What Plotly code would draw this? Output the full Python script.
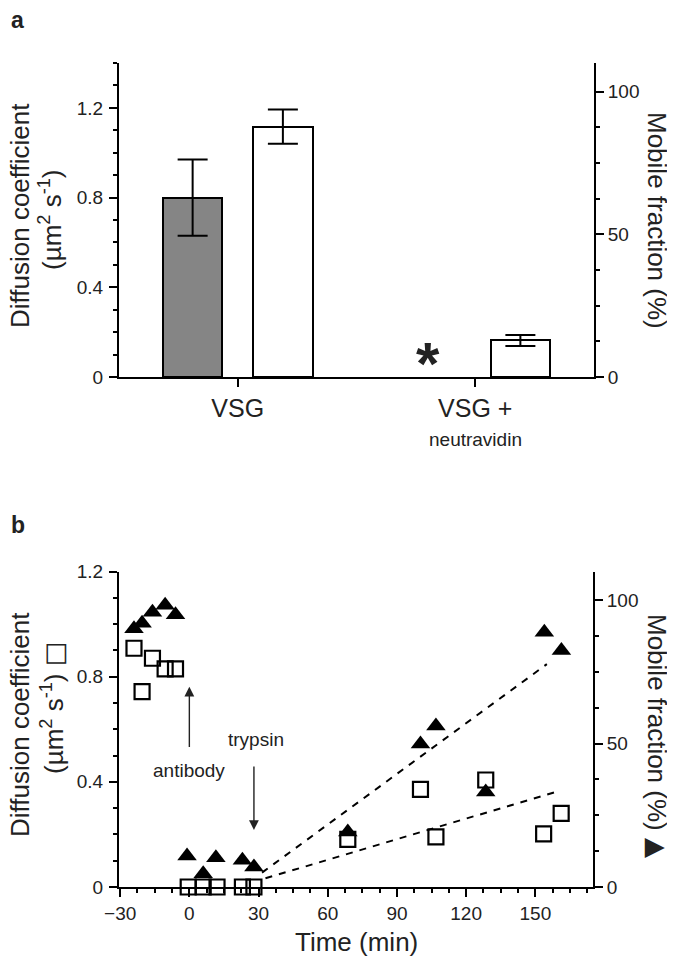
import plotly.graph_objects as go

# ---------------- data ----------------
# panel a
group_pos = [0, 1]
group_labels = ["VSG", "VSG +"]
group_sublabels = ["", "neutravidin"]
diff_coef = [0.80, None]          # second group not measurable (marked *)
diff_err = [0.17, 0.0]
mobile_frac = [87.7, 12.8]
mobile_err = [6.0, 1.9]

# panel b
time_sq = [-24, -20.5, -16, -10.5, -6, -0.5, 6, 12, 23, 28, 68.7, 100.2, 106.9, 128.5, 153.6, 161.2]
diff_b = [0.908, 0.743, 0.87, 0.83, 0.83, 0, 0, 0, 0, 0, 0.181, 0.371, 0.191, 0.407, 0.202, 0.28]
time_tri = [-24, -20.5, -16, -10.5, -6, -1, 6, 11.5, 23, 28, 68.7, 100.2, 106.9, 128.5, 153.9, 161.3]
mob_b = [90.0, 92.0, 95.8, 98.2, 94.9, 10.8, 4.6, 10.2, 9.3, 7.0, 19.2, 49.9, 56.1, 33.1, 88.8, 82.5]
fit_mob_x = [31.5, 155]
fit_mob_y = [5.0, 77.7]
fit_diff_x = [33, 159]
fit_diff_y = [0.033, 0.362]

FONT = "Liberation Sans, Arial, Helvetica, sans-serif"
SYM = "<span style='font-family:DejaVu Sans'>{}</span>"
OFF = 8                      # browser body margin
W, H = 675 - OFF, 959 - OFF


def px(x):
    return (x - OFF) / W


def py(y):
    return 1 - (y - OFF) / H


fig = go.Figure()

# ---- panel a bars ----
fig.add_trace(go.Bar(
    x=group_pos, y=diff_coef, xaxis="x", yaxis="y",
    width=0.25, offset=-0.315,
    marker=dict(color="#858585", line=dict(color="black", width=2)),
    error_y=dict(type="data", array=diff_err, color="black", thickness=2, width=15),
    showlegend=False,
))
fig.add_trace(go.Bar(
    x=group_pos, y=mobile_frac, xaxis="x", yaxis="y2",
    width=0.25, offset=0.065,
    marker=dict(color="white", line=dict(color="black", width=2)),
    error_y=dict(type="data", array=mobile_err, color="black", thickness=2, width=15),
    showlegend=False,
))

# ---- panel b ----
fig.add_trace(go.Scatter(
    x=fit_mob_x, y=fit_mob_y, xaxis="x2", yaxis="y4", mode="lines",
    line=dict(color="black", width=2, dash="7px,7px"), showlegend=False,
))
fig.add_trace(go.Scatter(
    x=fit_diff_x, y=fit_diff_y, xaxis="x2", yaxis="y3", mode="lines",
    line=dict(color="black", width=2, dash="7px,7px"), showlegend=False,
))
fig.add_trace(go.Scatter(
    x=time_tri, y=mob_b, xaxis="x2", yaxis="y4", mode="markers",
    marker=dict(symbol="triangle-up", size=17, color="black"),
    cliponaxis=False, showlegend=False,
))
fig.add_trace(go.Scatter(
    x=time_sq, y=diff_b, xaxis="x2", yaxis="y3", mode="markers",
    marker=dict(symbol="square-open", size=15, color="black", line=dict(width=2.2)),
    cliponaxis=False, showlegend=False,
))

ax_common = dict(showline=True, linecolor="black", linewidth=2, ticks="outside",
                 tickcolor="black", tickwidth=2, ticklen=8, showgrid=False,
                 zeroline=False, tickfont=dict(family=FONT, size=19, color="#222"),
                 automargin=False)
minor_common = dict(ticks="outside", ticklen=4, tickwidth=2, tickcolor="black", showgrid=False)

xa_dom = [px(119), px(594)]
ya_dom = [py(377), py(63)]
xb_dom = [px(119), px(593)]
yb_dom = [py(887), py(571.5)]

fig.update_layout(
    width=W, height=H,
    margin=dict(l=0, r=0, t=0, b=0),
    paper_bgcolor="white", plot_bgcolor="white",
    font=dict(family=FONT, color="#222"),
    xaxis=dict(ax_common, domain=xa_dom, anchor="y", range=[-0.5, 1.5],
               tickmode="array", tickvals=group_pos, ticktext=group_labels,
               tickfont=dict(family=FONT, size=25, color="#222")),
    yaxis=dict(ax_common, domain=ya_dom, anchor="x", range=[0, 1.4],
               tickmode="array", tickvals=[0, 0.4, 0.8, 1.2], ticktext=["0", "0.4", "0.8", "1.2"],
               ticklabelstandoff=2,
               minor=dict(minor_common, dtick=0.1, tick0=0)),
    yaxis2=dict(ax_common, domain=ya_dom, anchor="x", overlaying="y", side="right",
                range=[0, 110], tickmode="array", tickvals=[0, 50, 100],
                minor=dict(minor_common, dtick=12.5, tick0=0)),
    xaxis2=dict(ax_common, domain=xb_dom, anchor="y3", range=[-30.5, 175],
                tickmode="linear", tick0=0, dtick=30,
                minor=dict(minor_common, dtick=7.5, tick0=0)),
    yaxis3=dict(ax_common, domain=yb_dom, anchor="x2", range=[0, 1.2],
                tickmode="array", tickvals=[0, 0.4, 0.8, 1.2], ticktext=["0", "0.4", "0.8", "1.2"],
                ticklabelstandoff=2,
                minor=dict(minor_common, dtick=0.1, tick0=0)),
    yaxis4=dict(ax_common, domain=yb_dom, anchor="x2", overlaying="y3", side="right",
                range=[0, 110], tickmode="array", tickvals=[0, 50, 100],
                minor=dict(minor_common, dtick=12.5, tick0=0)),
    bargap=0,
)

ann = []
tfont = dict(family=FONT, size=26, color="#222")
C = dict(xanchor="center", yanchor="middle", showarrow=False)


def paper_text(text, x, y, font, angle=0):
    ann.append(dict(C, text=text, x=px(x), y=py(y), xref="paper", yref="paper",
                    textangle=angle, font=font))


# panel labels
paper_text("<b>a</b>", 17, 20, dict(family=FONT, size=23, color="#222"))
paper_text("<b>b</b>", 18, 525, dict(family=FONT, size=23, color="#222"))
# panel a titles
paper_text("Diffusion coefficient", 20, 216, tfont, -90)
paper_text("(µm<sup>2</sup> s<sup>-1</sup>)", 51, 220, tfont, -90)
paper_text("Mobile fraction (%)", 657, 220, tfont, 90)
# second line of group label
for gx, sub in zip(group_pos, group_sublabels):
    if sub:
        ann.append(dict(C, text=sub, x=gx, y=py(439), xref="x", yref="paper",
                        font=dict(family=FONT, size=19, color="#222")))
# asterisk for unmeasurable diffusion
ann.append(dict(C, text="<b>*</b>", x=0.80, y=0.098, xref="x", yref="y",
                font=dict(family=FONT, size=60, color="#222"), yshift=-8))
# panel b titles
paper_text("Diffusion coefficient", 20, 725, tfont, -90)
paper_text("(µm<sup>2</sup> s<sup>-1</sup>) " + SYM.format("□"), 52, 708, tfont, -90)
paper_text("Mobile fraction (%) " + SYM.format("▲"), 657, 736, tfont, 90)
paper_text("Time (min)", 356, 942, tfont)
# arrows
ann.append(dict(x=0, y=0.762, ax=0, ay=0.527, xref="x2", yref="y3", axref="x2", ayref="y3",
                text="", showarrow=True, arrowhead=2, arrowsize=1.4, arrowwidth=1.4, arrowcolor="#222"))
ann.append(dict(x=28, y=0.217, ax=28, ay=0.464, xref="x2", yref="y3", axref="x2", ayref="y3",
                text="", showarrow=True, arrowhead=2, arrowsize=1.4, arrowwidth=1.4, arrowcolor="#222"))
ann.append(dict(C, text="antibody", x=0, y=0.442, xref="x2", yref="y3",
                font=dict(family=FONT, size=19, color="#222")))
ann.append(dict(C, text="trypsin", x=29, y=0.562, xref="x2", yref="y3",
                font=dict(family=FONT, size=19, color="#222")))
fig.update_layout(annotations=ann)

fig.write_html("out.html")
